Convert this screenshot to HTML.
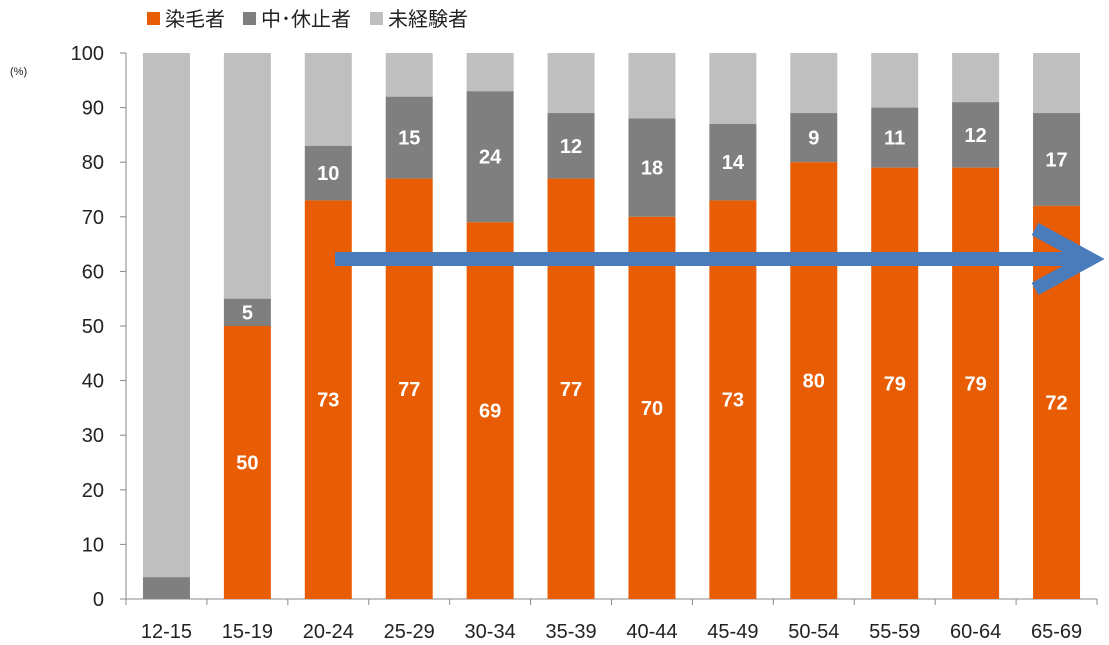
<!DOCTYPE html>
<html><head><meta charset="utf-8"><style>
body{margin:0;background:#fff;}
svg{display:block;font-family:"Liberation Sans","Noto Sans CJK JP",sans-serif;}
</style></head><body>
<svg id="chart" width="1109" height="645" viewBox="0 0 1109 645">
<g id="legend">
<g><rect x="147" y="12" width="13" height="13" fill="#E85D04"/><text x="165" y="26" font-size="20" fill="#222">染毛者</text></g>
<g><rect x="243" y="12" width="13" height="13" fill="#7F7F7F"/><text x="261" y="26" font-size="20" fill="#222">中･休止者</text></g>
<g><rect x="370" y="12" width="13" height="13" fill="#BFBFBF"/><text x="388" y="26" font-size="20" fill="#222">未経験者</text></g>
</g>
<text x="10" y="75" font-size="11" fill="#222">(%)</text>
<g id="axes"></g>
<g id="bars"></g>
<g stroke="#4A7BBA" stroke-width="14" fill="none">
<line x1="335" y1="259" x2="1090" y2="259"/>
<polyline points="1035,229 1090,259 1035,289" stroke-linejoin="miter" stroke-linecap="butt"/>
</g>
</svg>
<script>
const categories=["12-15","15-19","20-24","25-29","30-34","35-39","40-44","45-49","50-54","55-59","60-64","65-69"];
const dyed=[0,50,73,77,69,77,70,73,80,79,79,72];
const stopped=[4,5,10,15,24,12,18,14,9,11,12,17];
const yTicks=[0,10,20,30,40,50,60,70,80,90,100];
const NS="http://www.w3.org/2000/svg";
const x0=126,x1=1097,y0=599,y100=53;
const bw=(x1-x0)/categories.length;
function ys(v){return y0-(y0-y100)*v/100;}
function xs(i){return x0+bw*(i+0.5);}
function mk(tag,attrs,parent){const e=document.createElementNS(NS,tag);for(const k in attrs)e.setAttribute(k,attrs[k]);parent.appendChild(e);return e;}
const axes=document.getElementById('axes'),bars=document.getElementById('bars');
let a=mk('line',{x1:x0,y1:y100,x2:x0,y2:y0,stroke:'#888'},axes);


let b=mk('line',{x1:x0,y1:y0,x2:x1,y2:y0,stroke:'#888'},axes);


yTicks.forEach(t=>{
 mk('line',{x1:x0-6,y1:ys(t),x2:x0,y2:ys(t),stroke:'#888'},axes);
 const tx=mk('text',{x:x0-22,y:ys(t)+7,'font-size':20,'text-anchor':'end',fill:'#222'},axes);
 tx.textContent=t;
 
 
});
for(let i=0;i<=categories.length;i++){mk('line',{x1:x0+bw*i,y1:y0,x2:x0+bw*i,y2:y0+6,stroke:'#888'},axes);}
categories.forEach((c,i)=>{
 const tx=mk('text',{x:xs(i),y:y0+39,'font-size':20,'text-anchor':'middle',fill:'#222'},axes);
 tx.textContent=c;
 
 
 const w=47,xl=xs(i)-w/2;
 const d=dyed[i],s=stopped[i];
 const rn=mk('rect',{x:xl,y:ys(100),width:w,height:ys(d+s)-ys(100),fill:'#BFBFBF'},bars);
 
 
 const rs=mk('rect',{x:xl,y:ys(d+s),width:w,height:ys(d)-ys(d+s),fill:'#7F7F7F'},bars);
 
 
 if(d>0){
  const rd=mk('rect',{x:xl,y:ys(d),width:w,height:ys(0)-ys(d),fill:'#E85D04'},bars);
  
  
  const l=mk('text',{x:xs(i),y:ys(d/2)+7,'font-size':20,'font-weight':'bold','text-anchor':'middle',fill:'#fff'},bars);
  l.textContent=d;
  
  
  const l2=mk('text',{x:xs(i),y:ys(d+s/2)+7,'font-size':20,'font-weight':'bold','text-anchor':'middle',fill:'#fff'},bars);
  l2.textContent=s;
  
  
 }
});
</script>
</body></html>
